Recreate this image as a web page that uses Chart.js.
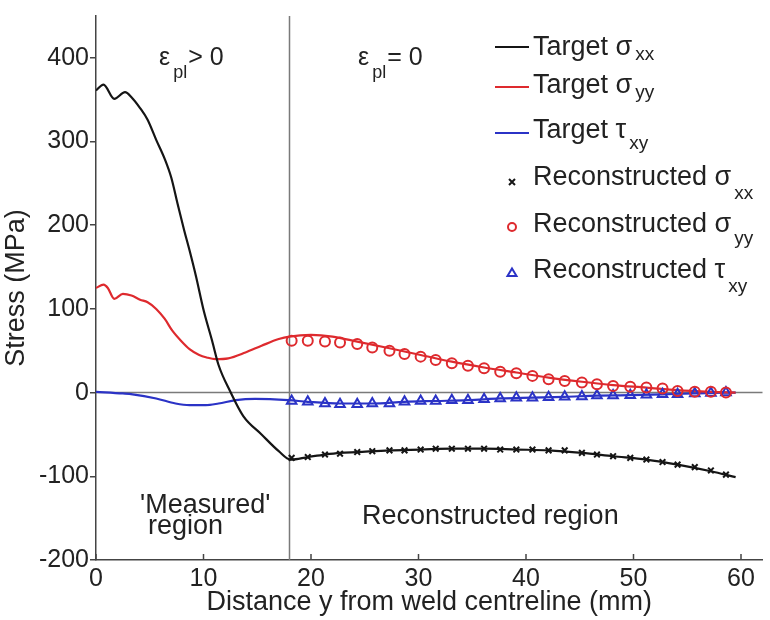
<!DOCTYPE html>
<html>
<head>
<meta charset="utf-8">
<script src="https://cdn.jsdelivr.net/npm/chart.js@4.4.0/dist/chart.umd.min.js"></script>
<style>
  html, body { margin: 0; padding: 0; background: #fff; }
  #wrap { width: 770px; height: 620px; }
</style>
</head>
<body>
<div id="wrap"><canvas id="stress" width="770" height="620"></canvas></div>
<script>
// axis ticks
const xTicks = [0, 10, 20, 30, 40, 50, 60];
const yTicks = [-200, -100, 0, 100, 200, 300, 400];
const boundaryX = 18; // end of the 'measured' region

// target curves
const sxxX = [0, 0.7, 1.7, 2.7, 3.3, 4.1, 4.8, 5.6, 6.4, 7.0, 7.6, 8.2, 8.7, 9.3, 10.0, 10.8, 11.4, 12.5, 13.7, 15.4, 17.0, 18.1, 19.7, 21.3, 22.7, 24.3, 27.3, 30.2, 33.1, 36.1, 39.1, 42.1, 45.2, 48.1, 51.2, 54.1, 57.2, 59.5];
const sxxY = [361, 368, 351, 359, 353, 340, 326, 302, 279, 257, 225, 194, 170, 139, 99, 62, 33, 1, -28, -50, -70, -80, -77, -74, -72, -71, -69, -68, -67, -67, -68, -69, -72, -76, -80, -86, -94, -101];

const syyX = [0, 0.7, 1.1, 1.7, 2.5, 3.3, 4.1, 4.8, 5.6, 6.4, 7.1, 7.9, 8.7, 9.6, 10.3, 11.1, 12.3, 13.9, 15.4, 17.0, 18.0, 20.0, 22.0, 24.3, 27.3, 30.2, 33.1, 36.1, 39.1, 42.1, 45.2, 48.1, 51.2, 54.1, 57.2, 59.5];
const syyY = [125, 129, 125, 112, 118, 116, 111, 108, 100, 88, 74, 62, 52, 45, 42, 40, 41, 48, 56, 64, 67, 69, 67, 61, 53, 45, 37, 30, 24, 18, 13, 9, 6, 3, 1, 0];

const txyX = [0, 2.5, 3.4, 5.6, 7.4, 8.7, 10.2, 11.4, 13.0, 14.8, 17.9, 19.7, 22.7, 25.7, 28.7, 31.6, 34.6, 37.6, 40.6, 43.6, 46.6, 49.7, 52.7, 55.7, 58.6, 59.5];
const txyY = [1, -1, -2, -7, -13, -15, -15, -13, -9, -7.5, -9, -11, -13, -13, -11, -10, -9, -7, -6, -5, -3.5, -3, -2, -1, 0, 0];

// reconstructed points
const reconX = [18.2, 19.7, 21.3, 22.7, 24.3, 25.7, 27.3, 28.7, 30.2, 31.6, 33.1, 34.6, 36.1, 37.6, 39.1, 40.6, 42.1, 43.6, 45.2, 46.6, 48.1, 49.7, 51.2, 52.7, 54.1, 55.7, 57.2, 58.6];
const reconSxx = [-78, -77, -74, -73, -71, -70, -69, -69, -68, -67, -67, -67, -67, -68, -68, -68, -69, -69, -72, -74, -76, -78, -80, -83, -86, -89, -93, -98];
const reconSyy = [62, 62, 61, 60, 58, 54, 50, 46, 43, 39, 35, 32, 29, 25, 23, 20, 16, 14, 12, 10, 8, 7, 6, 5, 2, 1, 1, 0];
const reconTxy = [-10, -11, -13, -14, -14, -13, -13, -11, -10, -10, -9, -9, -8, -7, -6, -6, -5.5, -5, -4.5, -3.5, -3.5, -3, -2.5, -2, -2, -1, -0.5, 0];

const FONT = '"Liberation Sans", Arial, Helvetica, sans-serif';
const BLACK = '#151515', RED = '#de2a2e', BLUE = '#2b33c6';
const INK = '#222';

const pts = (xs, ys) => xs.map((x, i) => ({ x: x, y: ys[i] }));

const lineSet = (label, xs, ys, color) => ({
    label: label,
    data: pts(xs, ys),
    showLine: true,
    borderColor: color,
    borderWidth: 2.2,
    pointRadius: 0,
    cubicInterpolationMode: 'monotone',
    order: 2
});

const markSet = (label, ys, color, style, r) => ({
    label: label,
    data: pts(reconX, ys),
    showLine: false,
    borderColor: color,
    backgroundColor: 'rgba(0,0,0,0)',
    pointStyle: style,
    pointRadius: r,
    pointBorderWidth: 2,
    order: 1
});

// draws text with a subscript part, returns end x
function richText(ctx, parts, x, base, size, subSize, subDrop) {
    let cx = x;
    parts.forEach(p => {
        ctx.font = (p.sub ? subSize : size) + 'px ' + FONT;
        ctx.fillText(p.t, cx, p.sub ? base + subDrop : base);
        cx += ctx.measureText(p.t).width + (p.sub ? 1 : 3);
    });
    return cx;
}

const decorations = {
    id: 'decorations',
    beforeDatasetsDraw(chart) {
        const { ctx, chartArea, scales: { x, y } } = chart;
        ctx.save();
        ctx.strokeStyle = '#7a7a7a';
        ctx.lineWidth = 1.5;
        // zero line
        const y0 = y.getPixelForValue(0);
        ctx.beginPath();
        ctx.moveTo(chartArea.left, y0);
        ctx.lineTo(chartArea.right, y0);
        ctx.stroke();
        // boundary of measured region
        const xb = x.getPixelForValue(boundaryX);
        ctx.beginPath();
        ctx.moveTo(xb, chartArea.top);
        ctx.lineTo(xb, chartArea.bottom);
        ctx.stroke();
        ctx.restore();
    },
    afterDraw(chart) {
        const { ctx, chartArea, scales: { x } } = chart;
        ctx.save();
        // inward tick marks on the x axis
        ctx.strokeStyle = '#444';
        ctx.lineWidth = 1.5;
        xTicks.forEach(v => {
            const px = x.getPixelForValue(v);
            ctx.beginPath();
            ctx.moveTo(px, chartArea.bottom);
            ctx.lineTo(px, chartArea.bottom - 6);
            ctx.stroke();
        });

        ctx.fillStyle = INK;
        ctx.textBaseline = 'alphabetic';
        ctx.textAlign = 'left';

        // region annotations
        richText(ctx, [{ t: 'ε' }, { t: 'pl', sub: true }, { t: '> 0' }], 159, 65, 25, 18, 13);
        richText(ctx, [{ t: 'ε' }, { t: 'pl', sub: true }, { t: '= 0' }], 358, 65, 25, 18, 13);
        ctx.font = '27px ' + FONT;
        ctx.fillText("'Measured'", 140, 513);
        ctx.fillText('region', 148, 534);
        ctx.fillText('Reconstructed region', 362, 524);

        // legend
        const rows = [
            { y: 47, base: 55, drop: 5, kind: 'line', color: BLACK, t: 'Target σ', s: 'xx' },
            { y: 87, base: 93, drop: 5, kind: 'line', color: RED, t: 'Target σ', s: 'yy' },
            { y: 133, base: 138, drop: 11, kind: 'line', color: BLUE, t: 'Target τ', s: 'xy' },
            { y: 182, base: 185, drop: 14, kind: 'cross', color: BLACK, t: 'Reconstructed σ', s: 'xx' },
            { y: 227, base: 232, drop: 12, kind: 'circle', color: RED, t: 'Reconstructed σ', s: 'yy' },
            { y: 273, base: 278, drop: 14, kind: 'tri', color: BLUE, t: 'Reconstructed τ', s: 'xy' }
        ];
        rows.forEach(r => {
            ctx.strokeStyle = r.color;
            ctx.lineWidth = 2;
            ctx.beginPath();
            if (r.kind === 'line') {
                ctx.moveTo(495, r.y);
                ctx.lineTo(529, r.y);
            } else if (r.kind === 'cross') {
                ctx.moveTo(509, r.y - 3); ctx.lineTo(515, r.y + 3);
                ctx.moveTo(515, r.y - 3); ctx.lineTo(509, r.y + 3);
            } else if (r.kind === 'circle') {
                ctx.arc(512, r.y, 4, 0, Math.PI * 2);
            } else {
                ctx.moveTo(512, r.y - 4.5);
                ctx.lineTo(516.5, r.y + 3);
                ctx.lineTo(507.5, r.y + 3);
                ctx.closePath();
            }
            ctx.stroke();
            ctx.fillStyle = INK;
            richText(ctx, [{ t: r.t }, { t: r.s, sub: true }], 533, r.base, 27, 19, r.drop);
        });
        ctx.restore();
    }
};

Chart.defaults.font.family = FONT;
Chart.defaults.color = INK;

new Chart(document.getElementById('stress'), {
    type: 'scatter',
    data: {
        datasets: [
            markSet('Reconstructed σxx', reconSxx, BLACK, 'crossRot', 4),
            markSet('Reconstructed σyy', reconSyy, RED, 'circle', 5),
            markSet('Reconstructed τxy', reconTxy, BLUE, 'triangle', 5.5),
            lineSet('Target σxx', sxxX, sxxY, BLACK),
            lineSet('Target σyy', syyX, syyY, RED),
            lineSet('Target τxy', txyX, txyY, BLUE)
        ]
    },
    options: {
        responsive: false,
        animation: false,
        layout: { padding: { top: 9, right: 3, left: 0, bottom: 0 } },
        plugins: {
            legend: { display: false },
            tooltip: { enabled: false }
        },
        scales: {
            x: {
                type: 'linear',
                min: 0,
                max: 62,
                afterFit: s => { s.height = 60; },
                afterBuildTicks: s => { s.ticks = xTicks.map(v => ({ value: v })); },
                ticks: { font: { size: 25 }, padding: 4, maxRotation: 0, autoSkip: false },
                grid: { display: false, drawTicks: false },
                border: { display: true, color: '#444', width: 1.5 },
                title: {
                    display: true,
                    text: 'Distance y from weld centreline (mm)',
                    font: { size: 27 },
                    padding: { top: 0, bottom: 1 }
                }
            },
            y: {
                type: 'linear',
                min: -200,
                max: 450,
                afterFit: s => { s.width = 96; },
                afterBuildTicks: s => { s.ticks = yTicks.map(v => ({ value: v })); },
                ticks: { font: { size: 25 }, padding: 1 },
                grid: { drawOnChartArea: false, drawTicks: true, tickLength: 6, color: '#444', lineWidth: 1.5 },
                border: { display: true, color: '#444', width: 1.5 },
                title: {
                    display: true,
                    text: 'Stress (MPa)',
                    font: { size: 27 },
                    padding: 0
                }
            }
        }
    },
    plugins: [decorations]
});
</script>
</body>
</html>
